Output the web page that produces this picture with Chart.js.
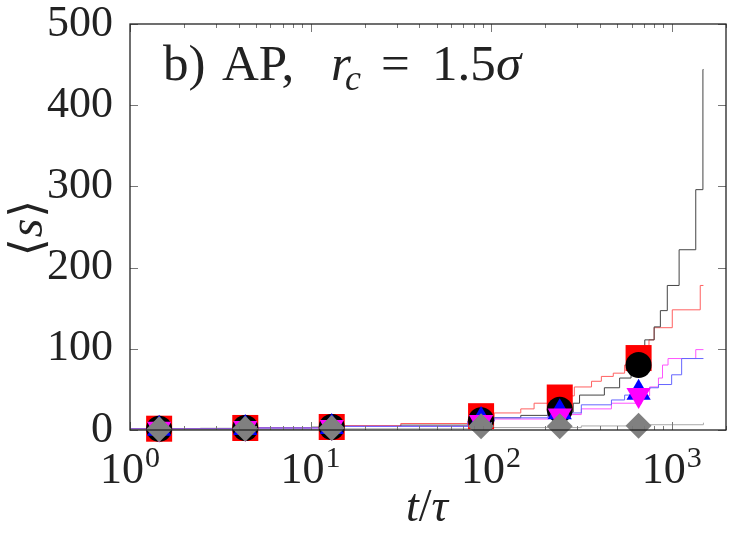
<!DOCTYPE html>
<html>
<head>
<meta charset="utf-8">
<script src="https://cdn.jsdelivr.net/npm/chart.js@4.4.1/dist/chart.umd.min.js"></script>
<style>
  html, body { margin: 0; padding: 0; background: #fff; }
  #wrap { width: 730px; height: 538px; position: relative; }
</style>
</head>
<body>
<div id="wrap"><canvas id="grafico"></canvas></div>
<script>
// pontos com marcadores (t/tau)
var markerTimes = [1.45, 4.35, 13.1, 88, 240, 656];
var squareRed = [1.6, 2.5, 3.7, 17, 40, 88.6];
var circleBlack = [1.6, 2.5, 3.7, 12, 25, 80];
var triUpBlue = [1.4, 2.4, 3.6, 12.3, 22, 46];
var triDownMagenta = [1.4, 2.4, 3.6, 10, 18, 43];
var diamondGray = [1, 1.5, 2.5, 4.5, 4.5, 5.3];

// curvas em degrau
var blackLineT = [1, 2.45, 4.6, 10.2, 15.2, 31.6, 74.5, 104, 146, 207, 285, 309, 424, 515, 596, 710, 800, 866, 946, 1100, 1360, 1490, 1500];
var blackLineV = [1.5, 2, 2.5, 3.5, 4.5, 6, 11, 15, 18, 22, 33, 43, 52, 64, 85, 111, 127, 147, 178, 222, 296, 444, 444];
var redLineT = [1, 4.6, 15.2, 31.6, 74.5, 104, 146, 173, 244, 289, 360, 408, 475, 549, 681, 749, 800, 1008, 1440, 1500];
var redLineV = [1.5, 3, 5.5, 8, 13, 21, 26, 33, 42, 53, 60, 66, 70, 80, 100, 111, 126, 148, 178, 178];
var blueLineT = [1, 4.6, 15.2, 74.5, 104, 207, 316, 464, 549, 681, 755, 845, 1000, 1136, 1500];
var blueLineV = [1.2, 2.5, 4.5, 11, 15, 21, 31, 37, 43, 50, 52, 56, 68, 88, 88];
var magentaLineT = [1, 4.6, 15.2, 74.5, 104, 207, 316, 464, 681, 755, 845, 890, 955, 1360, 1500];
var magentaLineV = [1.2, 2.5, 4.5, 10.5, 13.5, 19, 26, 33, 42, 53, 64, 80, 88, 99, 99];
var grayLineT = [1, 15.2, 88, 316, 681, 1500];
var grayLineV = [0.5, 1.5, 3, 5, 6.5, 9];

var yTicks = [0, 100, 200, 300, 400, 500];
var xDecades = [0, 1, 2, 3];

var serif = "'Liberation Serif', 'DejaVu Serif', serif";

function pares(xs, ys) {
    return xs.map(function (x, i) { return { x: x, y: ys[i] }; });
}

function linha(xs, ys, cor) {
    return {
        data: pares(xs, ys),
        showLine: true,
        borderColor: cor,
        borderWidth: 1,
        pointRadius: 0,
        stepped: true,
        fill: false,
        order: 10
    };
}

function marcador(ys, cor, estilo, raio, rot, ordem) {
    return {
        data: pares(markerTimes, ys),
        showLine: false,
        pointStyle: estilo,
        pointRadius: raio,
        pointRotation: rot,
        backgroundColor: cor,
        borderColor: cor,
        borderWidth: 0,
        clip: false,
        order: ordem
    };
}

function fonte(p) {
    return (p.italic ? 'italic ' : '') + p.size + 'px ' + serif;
}

// desenha trechos de texto com fontes diferentes
function textoMisto(ctx, partes, x, y, alinhar) {
    var total = 0;
    partes.forEach(function (p) {
        ctx.font = fonte(p);
        p.w = ctx.measureText(p.text).width;
        total += p.w + (p.dx || 0);
    });
    var cx = alinhar === 'center' ? x - total / 2 : x;
    partes.forEach(function (p) {
        ctx.font = fonte(p);
        cx += (p.dx || 0);
        ctx.fillText(p.text, cx, y + (p.dy || 0));
        cx += p.w;
    });
}

var moldura = {
    id: 'moldura',
    afterDraw: function (chart) {
        var ctx = chart.ctx;
        var a = chart.chartArea;
        var xs = chart.scales.x, ys = chart.scales.y;
        ctx.save();
        // marcas internas
        ctx.strokeStyle = '#777';
        ctx.lineWidth = 1;
        ctx.beginPath();
        for (var d = 0; d <= 3; d++) {
            for (var m = 1; m <= 9; m++) {
                var v = m * Math.pow(10, d);
                if (v > xs.max) break;
                var px = Math.round(xs.getPixelForValue(v)) + 0.5;
                var len = m === 1 ? 8 : 4;
                ctx.moveTo(px, a.bottom); ctx.lineTo(px, a.bottom - len);
                ctx.moveTo(px, a.top); ctx.lineTo(px, a.top + len);
            }
        }
        yTicks.forEach(function (t) {
            var py = Math.round(ys.getPixelForValue(t)) + 0.5;
            ctx.moveTo(a.left, py); ctx.lineTo(a.left + 8, py);
            ctx.moveTo(a.right, py); ctx.lineTo(a.right - 8, py);
        });
        ctx.stroke();
        // caixa
        ctx.strokeStyle = '#222';
        ctx.lineWidth = 1.3;
        ctx.strokeRect(a.left, a.top, a.right - a.left, a.bottom - a.top);

        ctx.fillStyle = '#222';
        ctx.textBaseline = 'alphabetic';
        // rótulos do eixo x
        xDecades.forEach(function (d) {
            var px = xs.getPixelForValue(Math.pow(10, d));
            textoMisto(ctx, [
                { text: '10', size: 44 },
                { text: String(d), size: 30, dy: -16, dx: 1 }
            ], px, 483, 'center');
        });
        // título x
        textoMisto(ctx, [
            { text: 't', size: 46, italic: true },
            { text: '/', size: 46 },
            { text: 'τ', size: 46, italic: true }
        ], 427, 521, 'center');
        // título y
        ctx.save();
        ctx.translate(42, 228);
        ctx.rotate(-Math.PI / 2);
        textoMisto(ctx, [
            { text: '⟨', size: 46 },
            { text: 's', size: 48, italic: true, dx: 1 },
            { text: '⟩', size: 46, dx: 1 }
        ], 0, 0, 'center');
        ctx.restore();
        // anotação
        var nota = [
            { text: 'b)', x: 163, size: 51 },
            { text: 'AP,', x: 222, size: 51 },
            { text: 'r', x: 331, size: 51, italic: true },
            { text: 'c', x: 345, size: 36, italic: true, dy: 10 },
            { text: '=', x: 381, size: 51 },
            { text: '1.5', x: 432, size: 51 },
            { text: 'σ', x: 496, size: 51, italic: true }
        ];
        nota.forEach(function (p) {
            ctx.font = fonte(p);
            ctx.fillText(p.text, p.x, 80 + (p.dy || 0));
        });
        ctx.restore();
    }
};

var ctx = document.getElementById('grafico').getContext('2d');

new Chart(ctx, {
    type: 'scatter',
    data: {
        datasets: [
            linha(grayLineT, grayLineV, '#aaaaaa'),
            linha(blueLineT, blueLineV, '#6666ff'),
            linha(magentaLineT, magentaLineV, '#ff55ff'),
            linha(blackLineT, blackLineV, '#444444'),
            linha(redLineT, redLineV, '#ff6060'),
            marcador(squareRed, '#ff0000', 'rect', 18.4, 0, 4),
            marcador(circleBlack, '#000000', 'circle', 13, 0, 3),
            marcador(triUpBlue, '#0000ff', 'triangle', 14, 0, 2),
            marcador(triDownMagenta, '#ff00ff', 'triangle', 14, 180, 1),
            marcador(diamondGray, '#808080', 'rectRot', 13, 0, 0)
        ]
    },
    options: {
        responsive: true,
        maintainAspectRatio: false,
        animation: false,
        layout: { autoPadding: false, padding: { left: 0, right: 4, top: 24, bottom: 0 } },
        plugins: {
            legend: { display: false },
            tooltip: { enabled: false }
        },
        scales: {
            x: {
                type: 'logarithmic',
                min: 1,
                max: 2000,
                grid: { display: false, drawTicks: false },
                border: { display: false },
                ticks: { display: false },
                afterFit: function (s) {
                    s.height = 108;
                    s.paddingLeft = 0; s.paddingRight = 0;
                    s.paddingTop = 0; s.paddingBottom = 0;
                }
            },
            y: {
                min: 0,
                max: 500,
                grid: { display: false, drawTicks: false },
                border: { display: false },
                ticks: {
                    stepSize: 100,
                    padding: 17,
                    color: '#222',
                    font: { family: serif, size: 44 }
                },
                afterFit: function (s) {
                    s.width = 130;
                    s.paddingLeft = 0; s.paddingRight = 0;
                    s.paddingTop = 0; s.paddingBottom = 0;
                }
            }
        }
    },
    plugins: [moldura]
});
</script>
</body>
</html>
